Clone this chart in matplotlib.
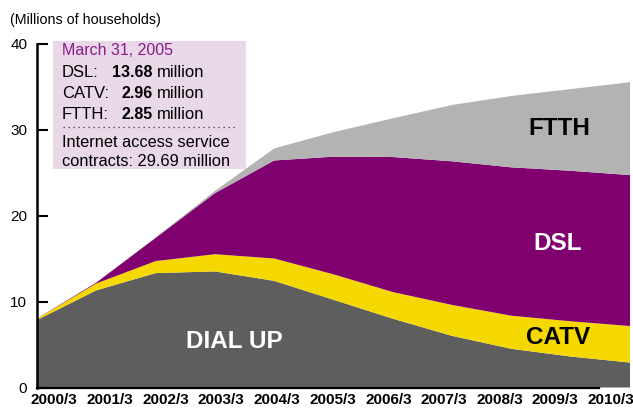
import matplotlib
matplotlib.use("Agg")
import matplotlib.pyplot as plt
import numpy as np
from matplotlib.patches import Rectangle
from matplotlib.lines import Line2D

plt.rcParams["font.family"] = ["Liberation Sans", "DejaVu Sans"]

# data (millions of households), March of each year
years = ["2000/3", "2001/3", "2002/3", "2003/3", "2004/3", "2005/3",
         "2006/3", "2007/3", "2008/3", "2009/3", "2010/3"]
dial_up = [7.85, 11.3, 13.3, 13.5, 12.4, 10.2, 8.0, 6.0, 4.5, 3.6, 2.9]
catv = [0.15, 0.8, 1.4, 2.0, 2.6, 2.96, 3.1, 3.6, 3.85, 4.1, 4.25]
dsl = [0.02, 0.1, 2.7, 7.1, 11.4, 13.68, 15.7, 16.7, 17.25, 17.5, 17.55]
ftth = [0.0, 0.0, 0.05, 0.25, 1.4, 2.85, 4.5, 6.55, 8.3, 9.5, 10.8]
y_ticks = [0, 10, 20, 30, 40]

GREY_DARK = "#5e5e5e"
YELLOW = "#f5d800"
PURPLE = "#800070"
GREY_LIGHT = "#b3b3b3"
BOX = "#e8d8e8"
NARROW = ["Liberation Sans Narrow", "Liberation Sans", "DejaVu Sans"]

W, H = 633, 409
fig = plt.figure(figsize=(W / 100, H / 100), dpi=100)
fig.patch.set_facecolor("white")

ax = fig.add_axes([37 / W, 1 - 387.5 / H, 596 / W, 344 / H])
x = np.arange(len(years))
ax.stackplot(x, dial_up, catv, dsl, ftth,
             colors=[GREY_DARK, YELLOW, PURPLE, GREY_LIGHT],
             linewidth=0, antialiased=True)
ax.set_xlim(0, 10.05)
ax.set_ylim(0, 40)

for side in ("top", "right"):
    ax.spines[side].set_visible(False)
ax.spines["left"].set_linewidth(1.8)
ax.spines["bottom"].set_linewidth(1.6)
ax.spines["bottom"].set_bounds(0, 9.48)
ax.spines["bottom"].set_zorder(5)

ax.set_yticks(y_ticks)
ax.set_yticklabels([str(v) for v in y_ticks], fontsize=11)
ax.tick_params(axis="y", direction="in", length=8, width=1.5, pad=7)

# labels spread evenly under the plot
ax.set_xticks(np.linspace(0.29, 9.68, len(years)))
ax.set_xticklabels(years, fontsize=11, fontweight="bold", family=NARROW)
ax.tick_params(axis="x", length=0, pad=4)

fig.text(10 / W, 1 - 24 / H, "(Millions of households)", fontsize=10.3,
         va="baseline", ha="left")

# area labels
ax.text(3.33, 5.37, "DIAL UP", color="white", fontsize=17.5,
        fontweight="bold", ha="center", va="center")
ax.text(8.78, 5.76, "CATV", color="black", fontsize=17.5,
        fontweight="bold", ha="center", va="center")
ax.text(8.78, 16.69, "DSL", color="white", fontsize=17.5,
        fontweight="bold", ha="center", va="center")
ax.text(8.80, 30.06, "FTTH", color="black", fontsize=17.5,
        fontweight="bold", ha="center", va="center")

# info box
fig.patches.append(Rectangle((53 / W, 1 - 169 / H), 193 / W, 128 / H,
                             transform=fig.transFigure, facecolor=BOX,
                             edgecolor="none", zorder=1))


def ftext(px, py, s, **kw):
    fig.text(px / W, 1 - py / H, s, va="baseline", zorder=3, **kw)


ftext(62, 55, "March 31, 2005", fontsize=11.5, color="#8c1a8c")
rows = [("DSL:", "13.68", 77.3), ("CATV:", "2.96", 98.3), ("FTTH:", "2.85", 119)]
for name, val, py in rows:
    ftext(62, py, name, fontsize=12)
    ftext(152.5, py, val, fontsize=11.5, fontweight="bold", ha="right")
    ftext(156.5, py, "million", fontsize=12)
fig.lines.append(Line2D([62.7 / W, 235 / W], [1 - 127.3 / H, 1 - 127.3 / H],
                        transform=fig.transFigure, color="#333333",
                        linewidth=0.9, linestyle=(0, (1, 3)), zorder=3))
ftext(62, 146.7, "Internet access service", fontsize=11.8)
ftext(62, 166, "contracts: 29.69 million", fontsize=11.8)

fig.savefig("out.png", dpi=100)
